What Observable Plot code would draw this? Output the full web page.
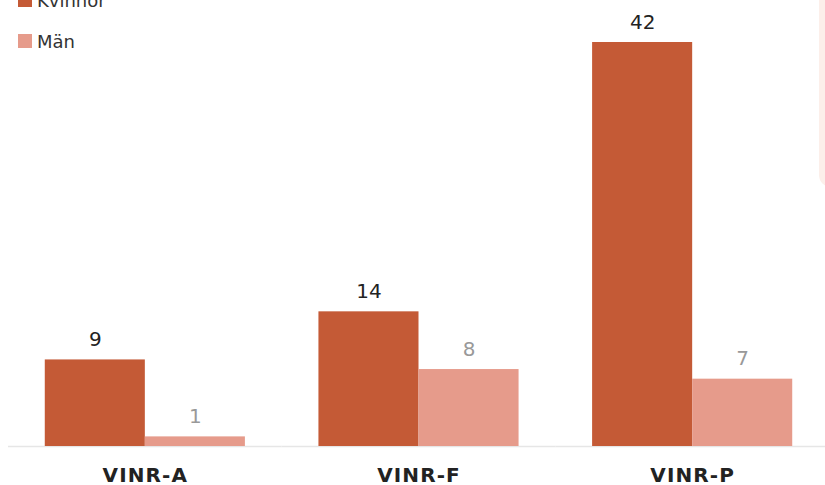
<!DOCTYPE html>
<html>
<head>
<meta charset="utf-8">
<script src="https://cdn.jsdelivr.net/npm/d3@7"></script>
<script src="https://cdn.jsdelivr.net/npm/@observablehq/plot@0.6"></script>
<style>
  html, body { margin: 0; padding: 0; background: #fff; }
  #wrap { position: relative; width: 825px; height: 485px; overflow: hidden; }
  #legend { position: absolute; left: 18px; top: -20.5px; font-family: "DejaVu Sans", sans-serif; font-size: 18px; color: #333; z-index: 2; }
  .row { display: flex; align-items: center; height: 41px; }
  .sw { width: 14px; height: 14px; margin-right: 5px; }
  #strip { position: absolute; left: 819px; top: -20px; width: 30px; height: 207px; background: #fcefea; border-radius: 12px; }
  #chart { position: absolute; left: 0; top: 0; width: 829px; }
  g[aria-label="fx-axis tick label"] text, g[aria-label="fx-axis"] text { letter-spacing: 1.1px; }
</style>
</head>
<body>
<div id="wrap">
  <div id="chart"></div>
  <div id="strip"></div>
  <div id="legend"></div>
</div>
<script>
const categories = ["VINR-A", "VINR-F", "VINR-P"];
const series = ["Kvinnor", "Män"];
const kvinnor = [9, 14, 42];
const man = [1, 8, 7];
const colors = ["#c45a36", "#e69b8b"];
const labelColors = ["#222222", "#999999"];

const data = [];
categories.forEach((c, i) => {
  data.push({cat: c, sex: series[0], value: kvinnor[i]});
  data.push({cat: c, sex: series[1], value: man[i]});
});

const chart = Plot.plot({
  width: 829,
  height: 485,
  marginLeft: 8,
  marginRight: 0,
  marginTop: 42,
  marginBottom: 39,
  style: {fontFamily: "DejaVu Sans, sans-serif", fontSize: "20px", fontWeight: "bold", color: "#222", background: "transparent", maxWidth: "none"},
  fx: {domain: categories, padding: 0, round: false, label: null, tickSize: 0, tickPadding: 21},
  x: {domain: series, paddingInner: 0, paddingOuter: 0.3675, round: false, axis: null},
  y: {domain: [0, 42], axis: null},
  color: {domain: series, range: colors},
  marks: [
    Plot.ruleY([0], {stroke: "#e6e6e6", strokeWidth: 1.5}),
    Plot.barY(data, {fx: "cat", x: "sex", y: "value", fill: "sex"}),
    Plot.text(data, {
      fx: "cat", x: "sex", y: "value", text: d => String(d.value),
      fill: d => labelColors[series.indexOf(d.sex)],
      lineAnchor: "bottom", dy: -14, fontSize: 20, fontWeight: "normal"
    })
  ]
});
document.getElementById("chart").appendChild(chart);

const legend = document.getElementById("legend");
series.forEach((s, i) => {
  const row = document.createElement("div");
  row.className = "row";
  const sw = document.createElement("span");
  sw.className = "sw";
  sw.style.background = colors[i];
  const t = document.createElement("span");
  t.textContent = s;
  row.appendChild(sw);
  row.appendChild(t);
  legend.appendChild(row);
});
</script>
</body>
</html>
